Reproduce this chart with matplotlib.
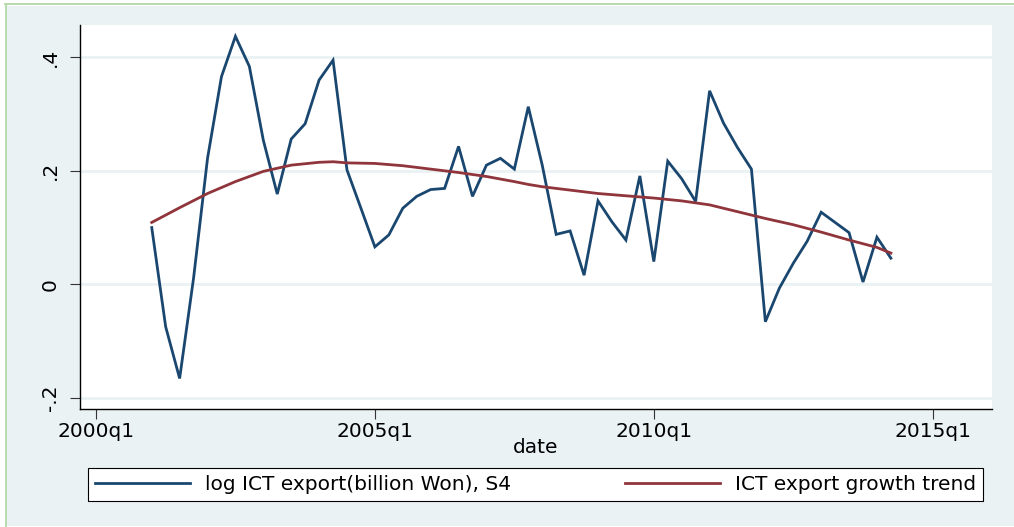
import matplotlib
matplotlib.use("Agg")
import matplotlib.pyplot as plt
from matplotlib.patches import Rectangle
from matplotlib.lines import Line2D

# quarter index: 0 = 2000q1
quarters = list(range(4, 58))  # 2001q1 .. 2014q2
log_ict_export_s4 = [
    0.100, -0.075, -0.166, 0.011, 0.222, 0.366, 0.437, 0.384, 0.254, 0.159,
    0.256, 0.283, 0.360, 0.395, 0.2015, 0.134, 0.066, 0.087, 0.134, 0.155,
    0.167, 0.169, 0.243, 0.155, 0.210, 0.222, 0.203, 0.313, 0.210, 0.088,
    0.094, 0.016, 0.147, 0.110, 0.078, 0.191, 0.040, 0.217, 0.186, 0.146,
    0.341, 0.284, 0.241, 0.203, -0.066, -0.007, 0.037, 0.076, 0.127, 0.109,
    0.091, 0.004, 0.083, 0.046,
]
trend_quarters = [4, 6, 8, 10, 12, 14, 16, 17, 18, 20, 22, 24, 26, 28, 30, 31,
                  32, 34, 36, 38, 40, 42, 44, 46, 48, 50, 52, 54, 56, 57]
ict_export_trend = [0.109, 0.135, 0.160, 0.181, 0.199, 0.210, 0.215, 0.216,
                    0.214, 0.213, 0.209, 0.203, 0.197, 0.190, 0.181, 0.176,
                    0.172, 0.166, 0.160, 0.156, 0.152, 0.147, 0.140, 0.128,
                    0.116, 0.105, 0.092, 0.078, 0.065, 0.055]
x_ticks = [0, 20, 40, 60]
x_tick_labels = ["2000q1", "2005q1", "2010q1", "2015q1"]
y_ticks = [-0.2, 0, 0.2, 0.4]
y_tick_labels = ["-.2", "0", ".2", ".4"]
series_labels = ["log ICT export(billion Won), S4", "ICT export growth trend"]

W, H = 1014, 527
fig = plt.figure(figsize=(W / 100, H / 100), dpi=100, facecolor="white")
plt.rcParams["font.family"] = ["DejaVu Sans"]
FS = 14.5

bg = "#EAF2F3"
fig.patches.append(Rectangle((7 / W, 1 - 526 / H), (W - 7) / W, (526 - 6) / H,
                             transform=fig.transFigure, facecolor=bg,
                             edgecolor="none", zorder=-5))
green = "#B2D8A8"
fig.lines.append(Line2D([5 / W, 1], [1 - 3.7 / H, 1 - 3.7 / H],
                        transform=fig.transFigure, color=green, lw=1.3,
                        zorder=-4))
fig.lines.append(Line2D([5.5 / W, 5.5 / W], [0, 1 - 3.7 / H],
                        transform=fig.transFigure, color=green, lw=1.3,
                        zorder=-4))

ax = fig.add_axes([79.5 / W, 1 - 409 / H, (992 - 79.5) / W, (409 - 25) / H])
ax.set_zorder(1)
ax.set_facecolor("white")
ax.plot(quarters, log_ict_export_s4, color="#1A476F", lw=2.0,
        label=series_labels[0], zorder=3, solid_joinstyle="miter")
ax.plot(trend_quarters, ict_export_trend, color="#90353B", lw=2.0,
        label=series_labels[1], zorder=4)

ax.set_xlim(-1.18, 64.25)
ax.set_ylim(-0.2198, 0.457)
ax.set_xticks(x_ticks)
ax.set_xticklabels(x_tick_labels, fontsize=FS)
ax.set_yticks(y_ticks)
ax.set_yticklabels(y_tick_labels, fontsize=FS, rotation=90, va="center")
ax.tick_params(axis="both", length=7, width=0.8, color="#333333")
ax.tick_params(axis="x", pad=2.5)
ax.tick_params(axis="y", pad=7)
ax.yaxis.grid(True, color=bg, lw=2.0, zorder=0)
ax.set_axisbelow(True)
for s in ["top", "right"]:
    ax.spines[s].set_visible(False)
for s in ["left", "bottom"]:
    ax.spines[s].set_color("black")
    ax.spines[s].set_linewidth(1.0)
ax.set_xlabel("date", fontsize=FS, labelpad=-2)

leg = ax.legend(loc="lower left", ncol=2, mode="expand",
                bbox_to_anchor=(88 / W, 1 - 501 / H, (983 - 88) / W, 34 / H),
                bbox_transform=fig.transFigure, fontsize=FS, frameon=True,
                fancybox=False, edgecolor="black", facecolor="white",
                framealpha=1, handlelength=4.7, handletextpad=0.75,
                borderpad=0.35, borderaxespad=0)
leg.get_frame().set_linewidth(0.8)

fig.savefig("out.png", dpi=100, facecolor="white")
